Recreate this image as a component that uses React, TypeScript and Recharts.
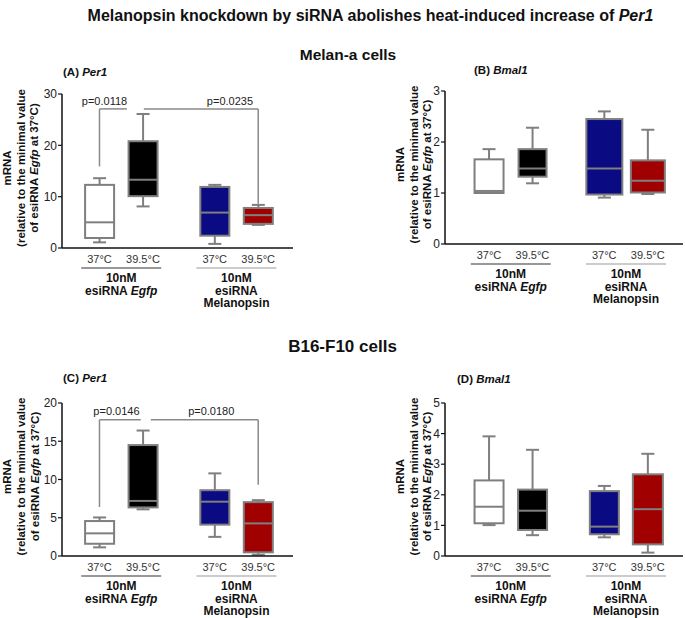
import React from "react";
import {
  ComposedChart,
  Bar,
  XAxis,
  YAxis,
  ReferenceLine,
  ReferenceDot,
  Label,
} from "recharts";

const FONT = "'Liberation Sans', Arial, sans-serif";
const GRAY = "#7f7f7f";

const conditions = ["37°C", "39.5°C", "37°C", "39.5°C"];
const boxFills = ["#ffffff", "#000000", "#0a0a82", "#a00000"];

// five-number summaries per box: [min, q1, median, q3, max]
const melanaPer1 = [
  [1.1, 1.95, 5.0, 12.3, 13.6],
  [8.1, 10.1, 13.3, 20.8, 26.1],
  [0.8, 2.4, 6.9, 11.9, 12.3],
  [4.5, 4.7, 6.4, 7.8, 8.4],
];
const melanaBmal1 = [
  [1.0, 1.0, 1.04, 1.66, 1.86],
  [1.19, 1.32, 1.48, 1.86, 2.28],
  [0.91, 0.97, 1.48, 2.45, 2.6],
  [0.98, 1.01, 1.24, 1.64, 2.24],
];
const b16Per1 = [
  [1.13, 1.6, 2.96, 4.57, 5.04],
  [6.1, 6.35, 7.2, 14.5, 16.4],
  [2.5, 4.1, 7.1, 8.6, 10.8],
  [0.17, 0.48, 4.26, 7.04, 7.3],
];
const b16Bmal1 = [
  [1.01, 1.07, 1.61, 2.47, 3.91],
  [0.68, 0.85, 1.48, 2.17, 3.47],
  [0.61, 0.71, 0.96, 2.12, 2.29],
  [0.11, 0.38, 1.53, 2.67, 3.34],
];

const melanaPer1Ticks = [0, 10, 20, 30];
const melanaBmal1Ticks = [0, 1, 2, 3];
const b16Per1Ticks = [0, 5, 10, 15, 20];
const b16Bmal1Ticks = [0, 1, 2, 3, 4, 5];

const melanaPer1P = ["p=0.0118", "p=0.0235"];
const b16Per1P = ["p=0.0146", "p=0.0180"];

// layout on the numeric x axis
const POS = [1, 2, 3.65, 4.65];
const GROUP_POS = [1.5, 4.15];

function XTick(props: any) {
  const { x, y, payload } = props;
  const v = payload.value;
  const bi = POS.indexOf(v);
  if (bi >= 0) {
    return (
      <text x={x} y={y + 15} textAnchor="middle" fontSize={11} fill="#333" fontFamily={FONT}>
        {conditions[bi]}
      </text>
    );
  }
  const gi = GROUP_POS.indexOf(v);
  if (gi < 0) return null;
  const t = { textAnchor: "middle" as const, fontSize: 12, fontWeight: "bold", fill: "#111", fontFamily: FONT };
  return (
    <g>
      <line x1={x - 40} x2={x + 40} y1={y + 20} y2={y + 20} stroke={gi === 0 ? "#333" : "#999"} strokeWidth={1.2} />
      <text x={x} y={y + 34} {...t}>10nM</text>
      {gi === 0 ? (
        <text x={x} y={y + 46.5} {...t}>
          esiRNA <tspan fontStyle="italic">Egfp</tspan>
        </text>
      ) : (
        <>
          <text x={x} y={y + 46.5} {...t}>esiRNA</text>
          <text x={x} y={y + 59} {...t}>Melanopsin</text>
        </>
      )}
    </g>
  );
}

const yLabel = (offsets: number[]) => (props: any) => {
  const vb = props.viewBox;
  const cy = vb.y + vb.height / 2 - 3;
  const common = { textAnchor: "middle" as const, dominantBaseline: "central" as const, fontSize: 11.5, fontWeight: "bold", fill: "#111", fontFamily: FONT };
  const lines = [
    <>mRNA</>,
    <>(relative to the minimal value</>,
    <>
      of esiRNA <tspan fontStyle="italic">Egfp</tspan> at 37°C)
    </>,
  ];
  return (
    <g>
      {offsets.map((dx, i) => {
        const lx = vb.x + dx;
        return (
          <text key={i} x={lx} y={cy} transform={`rotate(-90 ${lx} ${cy})`} {...common}>
            {lines[i]}
          </text>
        );
      })}
    </g>
  );
};

const makeBoxShape = (boxW: number[]) => (props: any) => {
  const { x, y, width, height, payload } = props;
  const [mn, q1, md, q3, mx] = payload.stats;
  const k = height / (mx - mn);
  const py = (v: number) => y + (mx - v) * k;
  const cx = x + width / 2;
  const w = boxW[payload.i];
  return (
    <g>
      <line x1={cx} x2={cx} y1={py(mx)} y2={py(q3)} stroke={GRAY} strokeWidth={2} />
      <line x1={cx} x2={cx} y1={py(q1)} y2={py(mn)} stroke={GRAY} strokeWidth={2} />
      <line x1={cx - 6.5} x2={cx + 6.5} y1={py(mx)} y2={py(mx)} stroke={GRAY} strokeWidth={2} />
      <line x1={cx - 6.5} x2={cx + 6.5} y1={py(mn)} y2={py(mn)} stroke={GRAY} strokeWidth={2} />
      <rect x={cx - w / 2} y={py(q3)} width={w} height={py(q1) - py(q3)} fill={payload.fill} stroke={GRAY} strokeWidth={2} />
      <line x1={cx - w / 2} x2={cx + w / 2} y1={py(md)} y2={py(md)} stroke={GRAY} strokeWidth={2} />
    </g>
  );
};

type Bracket = {
  y: number;
  labelY: number;
  leftLeg: number;
  rightLeg: number;
  gap: [number, number];
  labelX: [number, number];
};

type PanelProps = {
  left: number;
  top: number;
  width: number;
  height: number;
  stats: number[][];
  ticks: number[];
  xDomain: [number, number];
  yAxisWidth: number;
  marginTop: number;
  marginRight: number;
  labelOffsets: number[];
  boxW: number[];
  pvals?: string[];
  bracket?: Bracket;
};

function BoxPanel(p: PanelProps) {
  const rows = p.stats.map((s, i) => ({ pos: POS[i], range: [s[0], s[4]], stats: s, fill: boxFills[i], i }));
  const yMax = p.ticks[p.ticks.length - 1];
  const b = p.bracket;
  const ls = { stroke: "#8a8a8a", strokeWidth: 1.5 };
  return (
    <div style={{ position: "absolute", left: p.left, top: p.top }}>
      <ComposedChart
        width={p.width}
        height={p.height}
        data={rows}
        margin={{ top: p.marginTop, right: p.marginRight, bottom: 0, left: 0 }}
      >
        <XAxis
          dataKey="pos"
          type="number"
          domain={p.xDomain}
          ticks={[...POS, ...GROUP_POS]}
          interval={0}
          tick={<XTick />}
          tickLine={false}
          tickSize={0}
          tickMargin={0}
          height={62}
          axisLine={{ stroke: "#111", strokeWidth: 1.5 }}
        />
        <YAxis
          type="number"
          domain={[0, yMax]}
          ticks={p.ticks}
          width={p.yAxisWidth}
          tickSize={4}
          tickMargin={1}
          tick={{ fontSize: 12, fill: "#222", fontFamily: FONT }}
          axisLine={{ stroke: "#111", strokeWidth: 1.5 }}
          tickLine={{ stroke: "#111", strokeWidth: 1.2 }}
        >
          <Label content={yLabel(p.labelOffsets)} />
        </YAxis>
        <Bar dataKey="range" isAnimationActive={false} shape={makeBoxShape(p.boxW)} />
        {b && p.pvals && (
          <>
            <ReferenceLine segment={[{ x: POS[0], y: b.leftLeg }, { x: POS[0], y: b.y }]} {...ls} />
            <ReferenceLine segment={[{ x: POS[0], y: b.y }, { x: b.gap[0], y: b.y }]} {...ls} />
            <ReferenceLine segment={[{ x: b.gap[1], y: b.y }, { x: POS[3], y: b.y }]} {...ls} />
            <ReferenceLine segment={[{ x: POS[3], y: b.y }, { x: POS[3], y: b.rightLeg }]} {...ls} />
            {p.pvals.map((t, i) => (
              <ReferenceDot
                key={t}
                x={b.labelX[i]}
                y={b.labelY}
                r={0}
                fill="none"
                stroke="none"
                label={{ value: t, position: "center", fontSize: 11, fill: "#222", fontFamily: FONT }}
              />
            ))}
          </>
        )}
      </ComposedChart>
    </div>
  );
}

const panelTitle = (left: number, top: number, tag: string, gene: string) => (
  <div style={{ position: "absolute", left, top, fontSize: 11.5, fontWeight: "bold", whiteSpace: "nowrap" }}>
    {tag} <i>{gene}</i>
  </div>
);

export default function App() {
  return (
    <div
      style={{
        position: "absolute",
        left: 0,
        top: 0,
        width: 685,
        height: 618,
        background: "#fff",
        fontFamily: FONT,
        color: "#111",
        overflow: "hidden",
      }}
    >
      <div style={{ position: "absolute", left: 0, width: 741, top: 7, textAlign: "center", fontSize: 16, fontWeight: "bold", whiteSpace: "nowrap" }}>
        Melanopsin knockdown by siRNA abolishes heat-induced increase of <i>Per1</i>
      </div>
      <div style={{ position: "absolute", left: 0, width: 696, top: 46, textAlign: "center", fontSize: 15.5, fontWeight: "bold" }}>
        Melan-a cells
      </div>
      <div style={{ position: "absolute", left: 0, width: 685, top: 337, textAlign: "center", fontSize: 17, fontWeight: "bold" }}>
        B16-F10 cells
      </div>
      {panelTitle(63, 66, "(A)", "Per1")}
      {panelTitle(474, 64, "(B)", "Bmal1")}
      {panelTitle(63, 372, "(C)", "Per1")}
      {panelTitle(457, 373, "(D)", "Bmal1")}

      <BoxPanel
        left={0}
        top={60}
        width={300}
        height={250}
        stats={melanaPer1}
        ticks={melanaPer1Ticks}
        xDomain={[0.138, 5.45]}
        yAxisWidth={62}
        marginTop={34}
        marginRight={7}
        labelOffsets={[7, 20.5, 34]}
        boxW={[29, 29, 29, 29]}
        pvals={melanaPer1P}
        bracket={{ y: 27.1, labelY: 28.6, leftLeg: 15.9, rightLeg: 8.6, gap: [1.63, 2.02], labelX: [1.115, 4.0] }}
      />
      <BoxPanel
        left={342}
        top={60}
        width={343}
        height={246}
        stats={melanaBmal1}
        ticks={melanaBmal1Ticks}
        xDomain={[-0.01, 5.46]}
        yAxisWidth={103}
        marginTop={31}
        marginRight={2}
        labelOffsets={[58, 71.5, 85]}
        boxW={[29, 28, 36, 34]}
      />
      <BoxPanel
        left={0}
        top={370}
        width={300}
        height={248}
        stats={b16Per1}
        ticks={b16Per1Ticks}
        xDomain={[0.138, 5.45]}
        yAxisWidth={62}
        marginTop={33}
        marginRight={7}
        labelOffsets={[7, 20.5, 35]}
        boxW={[29, 29, 29, 29]}
        pvals={b16Per1P}
        bracket={{ y: 17.8, labelY: 18.9, leftLeg: 6.4, rightLeg: 9.3, gap: [1.95, 2.18], labelX: [1.39, 3.57] }}
      />
      <BoxPanel
        left={342}
        top={370}
        width={343}
        height={248}
        stats={b16Bmal1}
        ticks={b16Bmal1Ticks}
        xDomain={[-0.01, 5.46]}
        yAxisWidth={103}
        marginTop={33}
        marginRight={2}
        labelOffsets={[58, 71.5, 85]}
        boxW={[29, 29, 29, 30]}
      />
    </div>
  );
}
